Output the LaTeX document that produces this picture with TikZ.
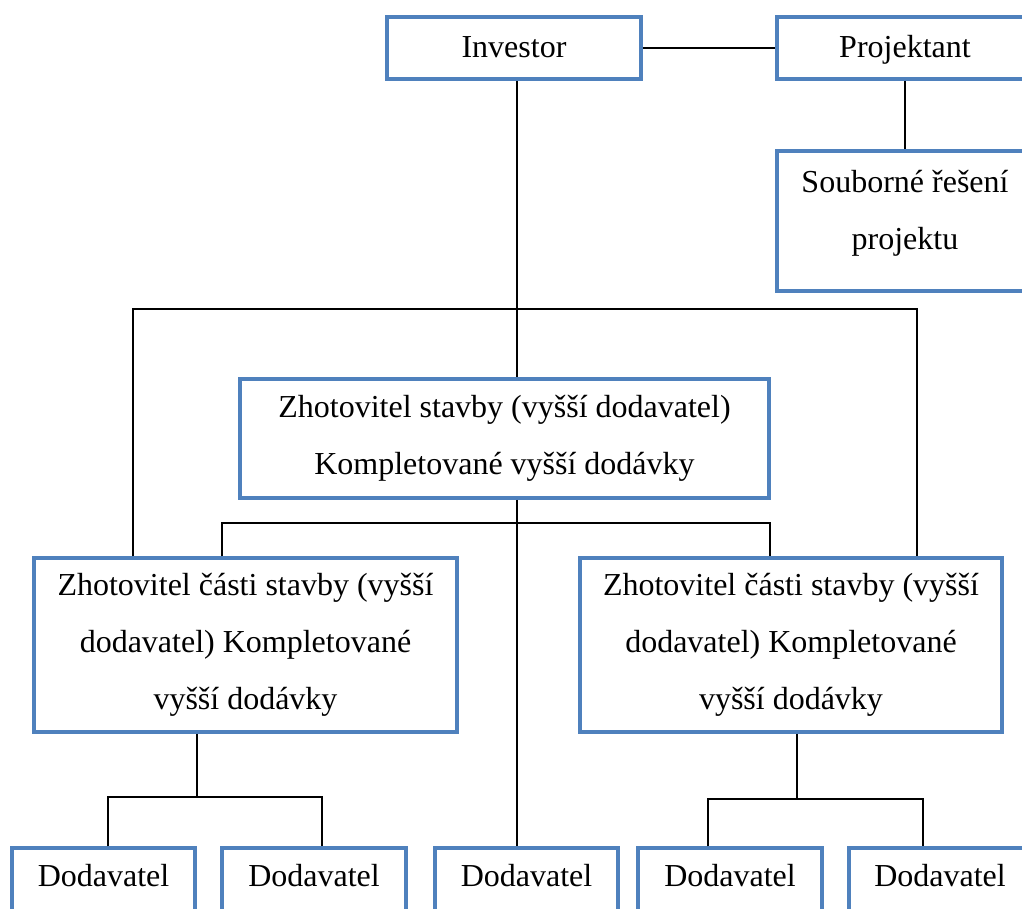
\documentclass[tikz,border=0pt]{standalone}
\usepackage{fontspec}
\setmainfont{Liberation Serif}
\definecolor{boxblue}{RGB}{79,129,189}
\tikzset{
  box/.style={draw=boxblue, line width=3.5pt, fill=white, inner sep=0pt,
    align=center, font=\fontsize{32}{57}\selectfont},
  oneline/.style={text height=22pt, text depth=4pt},
  txt/.style={inner sep=0pt, align=center, font=\fontsize{32}{57}\selectfont},
  link/.style={draw=black, line width=1.7pt},
}
\begin{document}
\begin{tikzpicture}[x=1pt, y=-1pt]
\useasboundingbox (0,0) rectangle (1022,908);
\clip (0,0) rectangle (1022,908);

% top row
\node[box, oneline, minimum width=254pt, minimum height=62pt] (inv) at (514,48) {Investor};
\node[box, oneline, minimum width=256pt, minimum height=62pt] (proj) at (905,48) {Projektant};
\node[box, minimum width=256pt, minimum height=140pt,
      label={[txt, name=soutext, yshift=8pt]center:Souborné řešení\\projektu}] (sou) at (905,221) {};

% main contractor
\node[box, minimum width=529pt, minimum height=119pt] (zs) at (504.5,438.5)
  {Zhotovitel stavby (vyšší dodavatel)\\Kompletované vyšší dodávky};

% part contractors
\node[box, minimum width=423pt, minimum height=174pt] (lm) at (245.5,645)
  {Zhotovitel části stavby (vyšší\\dodavatel) Kompletované\\vyšší dodávky};
\node[box, minimum width=422pt, minimum height=174pt] (rm) at (791,645)
  {Zhotovitel části stavby (vyšší\\dodavatel) Kompletované\\vyšší dodávky};

% suppliers
\foreach \n/\x/\w in {d1/103.5/183, d2/314/184, d3/526.5/183, d4/730/184, d5/940/182}
  \node[box, minimum width=\w pt, minimum height=120pt,
        label={[txt, name=\n text, yshift=32pt]center:Dodavatel}] (\n) at (\x,908) {};

% branching points
\coordinate (spine) at (517,309);
\coordinate (busL) at (133,309);
\coordinate (busR) at (917,309);
\coordinate (midL) at (222,523);
\coordinate (midR) at (770,523);
\coordinate (lstem) at (197,797);
\coordinate (lforkL) at (108,797);
\coordinate (lforkR) at (322,797);
\coordinate (rstem) at (797,799);
\coordinate (rforkL) at (708,799);
\coordinate (rforkR) at (923,799);

% connectors
\draw[link] (inv.east) -- (proj.west);
\draw[link] (proj.south) -- (sou.north);
\draw[link] (inv.south -| spine) -- (zs.north -| spine);
\draw[link] (lm.north -| busL) -- (busL) -- (busR) -- (rm.north -| busR);
\draw[link] (zs.south -| spine) -- (d3.north -| spine);
\draw[link] (lm.north -| midL) -- (midL) -- (midR) -- (rm.north -| midR);
\draw[link] (lm.south -| lstem) -- (lstem);
\draw[link] (d1.north -| lforkL) -- (lforkL) -- (lforkR) -- (d2.north -| lforkR);
\draw[link] (rm.south -| rstem) -- (rstem);
\draw[link] (d4.north -| rforkL) -- (rforkL) -- (rforkR) -- (d5.north -| rforkR);
\end{tikzpicture}
\end{document}
